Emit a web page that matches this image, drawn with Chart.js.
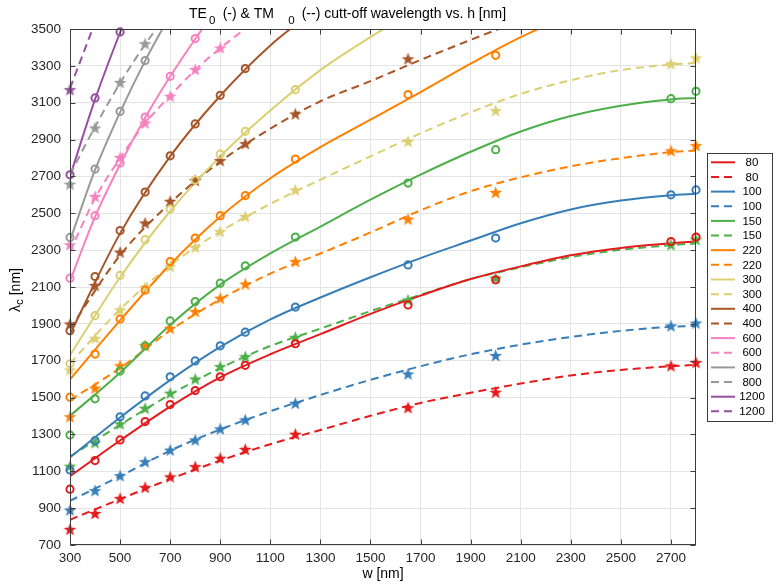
<!DOCTYPE html>
<html><head><meta charset="utf-8">
<script src="https://cdn.jsdelivr.net/npm/chart.js@4/dist/chart.umd.min.js"></script>
<style>html,body{margin:0;padding:0;background:#fff}canvas{display:block}</style>
</head><body>
<canvas id="c" width="780" height="588"></canvas>
<script>
// ---------------- data ----------------
const H_VALUES = [80, 100, 150, 220, 300, 400, 600, 800, 1200];
const COLORS = ['#e41a1c', '#377eb8', '#4daf4a', '#ff7f00', '#dbcf72', '#a65628', '#f781bf', '#999999', '#984ea3'];

const X_TICKS = [300, 500, 700, 900, 1100, 1300, 1500, 1700, 1900, 2100, 2300, 2500, 2700];
const Y_TICKS = [700, 900, 1100, 1300, 1500, 1700, 1900, 2100, 2300, 2500, 2700, 2900, 3100, 3300, 3500];

// widths of the measured points (markers)
const W_MARK = [300, 400, 500, 600, 700, 800, 900, 1000, 1200, 1650, 2000, 2700, 2800];
// widths at which the fitted curves are read
const W_LINE = [300, 500, 700, 900, 1100, 1300, 1500, 1700, 1900, 2100, 2300, 2500, 2700, 2800];
const W_LINE_FINE = [300, 400, 500, 600, 700, 800, 900, 1000];

// fitted curves, TE (solid) and TM (dashed)
const TE80_LINE  = [1073, 1267, 1451, 1610, 1735, 1844, 1954, 2053, 2143, 2212, 2272, 2312, 2337, 2347];
const TM80_LINE  = [837, 949, 1058, 1158, 1247, 1324, 1401, 1471, 1526, 1576, 1620, 1650, 1670, 1677];
const TE100_LINE = [1176, 1392, 1595, 1775, 1924, 2043, 2153, 2257, 2352, 2446, 2521, 2569, 2598, 2606];
const TM100_LINE = [940, 1073, 1212, 1327, 1426, 1514, 1596, 1670, 1735, 1787, 1829, 1862, 1884, 1889];
const TE150_LINE = [1401, 1635, 1894, 2113, 2282, 2428, 2574, 2710, 2834, 2944, 3028, 3084, 3118, 3126];
const TM150_LINE = [1180, 1352, 1516, 1660, 1780, 1874, 1969, 2058, 2143, 2207, 2262, 2302, 2327, 2337];
const TE220_LINE = [1599, 1919, 2222, 2481, 2690, 2859, 3008, 3158, 3312, 3456, 3576];
const TM220_LINE = [1486, 1660, 1864, 2033, 2173, 2282, 2396, 2516, 2620, 2695, 2755, 2799, 2832, 2841];
const TE300_LINE = [1730, 2153, 2511, 2809, 3058, 3277, 3456, 3625];
const TM300_LINE = [1685, 1979, 2217, 2401, 2551, 2682, 2809, 2934, 3048, 3148, 3222, 3277, 3307, 3316];
const TE400_LINE = [1844, 2391, 2809, 3138, 3411, 3625];
const TM400_LINE = [1874, 2272, 2556, 2780, 2959, 3108, 3217, 3332, 3441, 3546];
// steep curves, read on W_LINE_FINE
const TE600_LINE  = [2133, 2481, 2765, 3018, 3242, 3446, 3635];
const TM600_LINE  = [2292, 2581, 2799, 2988, 3138, 3277, 3396, 3501];
const TE800_LINE  = [2352, 2735, 3048, 3327, 3576];
const TM800_LINE  = [2710, 2969, 3207, 3416, 3605];
const TE1200_LINE = [2700, 3118, 3481, 3814];
const TM1200_LINE = [3178, 3536];

// measured points (TE = circles, TM = stars), on W_MARK
const TE80_PTS  = [1003, 1158, 1270, 1370, 1462, 1538, 1613, 1675, 1792, 2003, 2139, 2347, 2371];
const TM80_PTS  = [785, 871, 953, 1013, 1070, 1125, 1171, 1219, 1301, 1445, 1529, 1672, 1690];
const TE100_PTS = [1107, 1266, 1396, 1509, 1613, 1699, 1781, 1855, 1991, 2220, 2366, 2600, 2627];
const TM100_PTS = [890, 995, 1076, 1152, 1215, 1270, 1330, 1379, 1469, 1628, 1728, 1889, 1904];
const TE150_PTS = [1297, 1493, 1644, 1780, 1916, 2021, 2121, 2215, 2371, 2664, 2845, 3122, 3162];
const TM150_PTS = [1128, 1255, 1357, 1442, 1524, 1601, 1668, 1722, 1827, 2030, 2148, 2329, 2357];
const TE220_PTS = [1502, 1736, 1926, 2083, 2238, 2366, 2487, 2596, 2794, 3144, 3357, null, null];
const TM220_PTS = [1396, 1551, 1673, 1782, 1876, 1967, 2039, 2116, 2238, 2468, 2613, 2839, 2867];
const TE300_PTS = [1683, 1945, 2163, 2357, 2523, 2680, 2821, 2945, 3171, null, null, null, null];
const TM300_PTS = [1650, 1822, 1976, 2099, 2211, 2315, 2401, 2483, 2627, 2890, 3057, 3311, 3343];
const TE400_PTS = [1863, 2157, 2406, 2615, 2812, 2985, 3140, 3285, null, null, null, null, null];
const TM400_PTS = [1899, 2108, 2289, 2447, 2565, 2678, 2786, 2878, 3039, 3338, null, null, null];
const TE600_PTS = [2148, 2487, 2773, 3022, 3243, 3448, null, null, null, null, null, null, null];
const TM600_PTS = [2329, 2591, 2803, 2990, 3135, 3280, 3397, null, null, null, null, null, null];
const TE800_PTS = [2369, 2740, 3053, 3329, null, null, null, null, null, null, null, null, null];
const TM800_PTS = [2658, 2963, 3210, 3420, null, null, null, null, null, null, null, null, null];
const TE1200_PTS = [2709, 3126, 3484, null, null, null, null, null, null, null, null, null, null];
const TM1200_PTS = [3171, null, null, null, null, null, null, null, null, null, null, null, null];

const TE_LINES = [TE80_LINE, TE100_LINE, TE150_LINE, TE220_LINE, TE300_LINE, TE400_LINE, TE600_LINE, TE800_LINE, TE1200_LINE];
const TM_LINES = [TM80_LINE, TM100_LINE, TM150_LINE, TM220_LINE, TM300_LINE, TM400_LINE, TM600_LINE, TM800_LINE, TM1200_LINE];
const LINE_X   = [W_LINE, W_LINE, W_LINE, W_LINE, W_LINE, W_LINE, W_LINE_FINE, W_LINE_FINE, W_LINE_FINE];
const TE_PTS = [TE80_PTS, TE100_PTS, TE150_PTS, TE220_PTS, TE300_PTS, TE400_PTS, TE600_PTS, TE800_PTS, TE1200_PTS];
const TM_PTS = [TM80_PTS, TM100_PTS, TM150_PTS, TM220_PTS, TM300_PTS, TM400_PTS, TM600_PTS, TM800_PTS, TM1200_PTS];

// ---------------- styling helpers ----------------
const FONT = '"Liberation Sans", Arial, Helvetica, sans-serif';
const DASH = [8, 5];

function starCanvas(color) {
  const s = 15, c = document.createElement('canvas');
  c.width = s; c.height = s;
  const g = c.getContext('2d');
  const cx = s / 2, cy = s / 2 + 0.5, R = 6.8, r = 2.8;
  g.beginPath();
  for (let i = 0; i < 10; i++) {
    const ang = -Math.PI / 2 + i * Math.PI / 5;
    const rad = i % 2 === 0 ? R : r;
    const px = cx + rad * Math.cos(ang), py = cy + rad * Math.sin(ang);
    if (i === 0) g.moveTo(px, py); else g.lineTo(px, py);
  }
  g.closePath();
  g.fillStyle = color; g.fill();
  return c;
}

function pairs(xs, ys) {
  const out = [];
  for (let i = 0; i < ys.length && i < xs.length; i++) {
    if (ys[i] !== null && ys[i] !== undefined) out.push({x: xs[i], y: ys[i]});
  }
  return out;
}

const datasets = [];
H_VALUES.forEach((h, i) => {
  datasets.push({
    label: String(h), type: 'line', data: pairs(LINE_X[i], TE_LINES[i]),
    borderColor: COLORS[i], borderWidth: 2, pointRadius: 0, fill: false,
    cubicInterpolationMode: 'monotone', order: 2, isLegend: true
  });
  datasets.push({
    label: String(h), type: 'line', data: pairs(LINE_X[i], TM_LINES[i]),
    borderColor: COLORS[i], borderWidth: 2, borderDash: DASH, pointRadius: 0, fill: false,
    cubicInterpolationMode: 'monotone', order: 2, isLegend: true
  });
});
H_VALUES.forEach((h, i) => {
  datasets.push({
    label: 'TE ' + h, type: 'line', showLine: false, data: pairs(W_MARK, TE_PTS[i]),
    pointStyle: 'circle', pointRadius: 3.6, pointBorderWidth: 2,
    pointBorderColor: COLORS[i], pointBackgroundColor: 'rgba(0,0,0,0)',
    borderColor: COLORS[i], clip: false, order: 1
  });
  datasets.push({
    label: 'TM ' + h, type: 'line', showLine: false, data: pairs(W_MARK, TM_PTS[i]),
    pointStyle: starCanvas(COLORS[i]), pointRadius: 6,
    borderColor: COLORS[i], backgroundColor: COLORS[i], clip: false, order: 1
  });
});

// ---------------- decoration plugin ----------------
const decor = {
  id: 'decor',
  afterDraw(chart) {
    const {ctx, chartArea: a, scales: {x, y}} = chart;
    ctx.save();
    // axes box
    const L = Math.round(a.left) + 0.5, R = Math.round(a.right) - 0.5,
          T = Math.round(a.top) + 0.5, B = Math.round(a.bottom) - 0.5;
    ctx.strokeStyle = '#3c3c3c'; ctx.lineWidth = 1; ctx.setLineDash([]);
    ctx.strokeRect(L, T, R - L, B - T);
    // inward ticks
    ctx.beginPath();
    X_TICKS.forEach(v => {
      const px = Math.round(x.getPixelForValue(v)) + 0.5;
      ctx.moveTo(px, B); ctx.lineTo(px, B - 5);
      ctx.moveTo(px, T); ctx.lineTo(px, T + 5);
    });
    Y_TICKS.forEach(v => {
      const py = Math.round(y.getPixelForValue(v)) + 0.5;
      ctx.moveTo(L, py); ctx.lineTo(L + 5, py);
      ctx.moveTo(R, py); ctx.lineTo(R - 5, py);
    });
    ctx.stroke();

    // title with subscripts
    ctx.fillStyle = '#000'; ctx.textAlign = 'left'; ctx.textBaseline = 'alphabetic';
    const big = '14px ' + FONT, small = '11.5px ' + FONT;
    ctx.font = big;   ctx.fillText('TE', 189, 17.5);
    ctx.font = small; ctx.fillText('0', 209, 23.5);
    ctx.font = big;   ctx.fillText('(-) & TM', 222.7, 17.5);
    ctx.font = small; ctx.fillText('0', 288.3, 23.5);
    ctx.font = big;   ctx.fillText('(--) cutt-off wavelength vs. h [nm]', 301.7, 17.5);

    // y-axis title: lambda_c [nm]
    ctx.save();
    ctx.translate(19.5, (a.top + a.bottom) / 2 + 3);
    ctx.rotate(-Math.PI / 2);
    ctx.font = big; const w1 = ctx.measureText('\u03bb').width;
    ctx.font = small; const w2 = ctx.measureText('c').width;
    ctx.font = big; const w3 = ctx.measureText(' [nm]').width;
    let sx = -(w1 + w2 + w3) / 2;
    ctx.font = big; ctx.fillText('\u03bb', sx, 0); sx += w1;
    ctx.font = small; ctx.fillText('c', sx, 3.5); sx += w2;
    ctx.font = big; ctx.fillText(' [nm]', sx, 0);
    ctx.restore();

    // legend
    const LG = {left: 707.5, top: 153.5, right: 772.5, bottom: 421.5, first: 162.3, step: 14.65};
    ctx.fillStyle = '#fff';
    ctx.fillRect(LG.left, LG.top, LG.right - LG.left, LG.bottom - LG.top);
    ctx.strokeStyle = '#3c3c3c'; ctx.lineWidth = 1;
    ctx.strokeRect(LG.left, LG.top, LG.right - LG.left, LG.bottom - LG.top);
    ctx.font = '11.5px ' + FONT; ctx.textAlign = 'center'; ctx.textBaseline = 'middle';
    let k = 0;
    chart.data.datasets.forEach(ds => {
      if (!ds.isLegend) return;
      const yy = LG.first + k * LG.step;
      ctx.strokeStyle = ds.borderColor; ctx.lineWidth = 2;
      ctx.setLineDash(ds.borderDash || []);
      ctx.beginPath(); ctx.moveTo(711, yy); ctx.lineTo(735, yy); ctx.stroke();
      ctx.setLineDash([]);
      ctx.fillStyle = '#000';
      ctx.fillText(ds.label, 752, yy + 0.5);
      k++;
    });
    ctx.restore();
  }
};

new Chart(document.getElementById('c'), {
  type: 'line',
  data: {datasets},
  plugins: [decor],
  options: {
    responsive: false, animation: false, devicePixelRatio: 1, events: [],
    layout: {padding: {left: 0, right: 84, top: 29, bottom: 0}},
    plugins: {legend: {display: false}, title: {display: false}, tooltip: {enabled: false}},
    scales: {
      x: {
        type: 'linear', min: 300, max: 2800,
        afterBuildTicks: s => { s.ticks = X_TICKS.map(v => ({value: v})); },
        afterFit: s => { s.height = 43; },
        grid: {color: '#e4e4e4', drawTicks: false, lineWidth: 1},
        border: {display: false},
        ticks: {font: {family: FONT, size: 13.5}, color: '#262626', padding: 5, maxRotation: 0, autoSkip: false,
                callback: v => String(v)},
        title: {display: true, text: 'w [nm]', font: {family: FONT, size: 14}, color: '#000', padding: {top: 0, bottom: 5}}
      },
      y: {
        type: 'linear', min: 700, max: 3500,
        afterBuildTicks: s => { s.ticks = Y_TICKS.map(v => ({value: v})); },
        afterFit: s => { s.width = 70; },
        grid: {color: '#e4e4e4', drawTicks: false, lineWidth: 1},
        border: {display: false},
        ticks: {font: {family: FONT, size: 13.5}, color: '#262626', padding: 9, autoSkip: false,
                callback: v => String(v)}
      }
    }
  }
});
</script>
</body></html>
